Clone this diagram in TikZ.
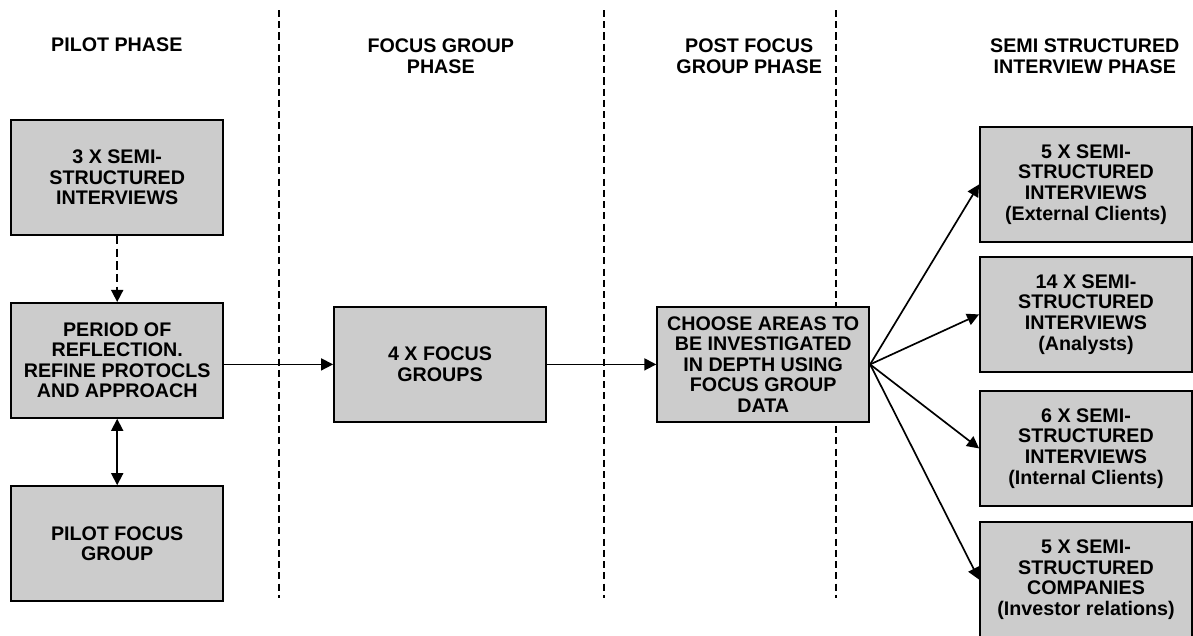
\documentclass[tikz,border=0pt]{standalone}
\usepackage{fontspec}
\setmainfont{Liberation Sans}
\usetikzlibrary{arrows.meta, positioning}

\begin{document}
\begin{tikzpicture}[
    every node/.style={font=\fontsize{14}{14.6}\selectfont\bfseries, align=center},
    phasebox/.style={
        draw=black,
        line width=1.3pt,
        fill=black!20,
        minimum width=5.3cm,
        minimum height=2.875cm,
        inner sep=2pt
    },
    phasetitle/.style={inner sep=0pt},
    divider/.style={dash pattern=on 5pt off 3pt, line width=0.9pt},
    arrow/.style={-{Triangle[length=3mm, width=3mm]}, line width=1.2pt}
]

\useasboundingbox (0,0) rectangle (29.825,-15.875);

% phase titles
\node[phasetitle] (tpilot) at (2.92,-1.11) {PILOT PHASE};
\node[phasetitle] (tfocus) at (11.02,-1.40) {FOCUS GROUP\\PHASE};
\node[phasetitle] (tpost) at (18.73,-1.40) {POST FOCUS\\GROUP PHASE};
\node[phasetitle] (tsemi) at (27.12,-1.40) {SEMI STRUCTURED\\INTERVIEW PHASE};

% dividers
\coordinate (d1top) at (6.975,-0.25);
\coordinate (d1bot) at (6.975,-14.95);
\coordinate (d2top) at (15.1,-0.25);
\coordinate (d2bot) at (15.1,-14.95);
\coordinate (d3top) at (20.9,-0.25);
\coordinate (d3bot) at (20.9,-14.95);
\draw[divider] (d1top) -- (d1bot);
\draw[divider] (d2top) -- (d2bot);
\draw[divider] (d3top) -- (d3bot);

% pilot phase
\node[phasebox] (pilotint) at (2.93,-4.44) {3 X SEMI-\\STRUCTURED\\INTERVIEWS};
\node[phasebox] (reflect) at (2.93,-9.01) {PERIOD OF\\REFLECTION.\\REFINE PROTOCLS\\AND APPROACH};
\node[phasebox] (pilotfg) at (2.93,-13.59) {PILOT FOCUS\\GROUP};

% focus group phase
\node[phasebox] (focus) at (11.0,-9.11) {4 X FOCUS\\GROUPS};

% post focus group phase
\node[phasebox] (choose) at (19.08,-9.11) {CHOOSE AREAS TO\\BE INVESTIGATED\\IN DEPTH USING\\FOCUS GROUP\\DATA};

% semi structured interview phase
\node[phasebox] (extcl) at (27.15,-4.61) {5 X SEMI-\\STRUCTURED\\INTERVIEWS\\(External Clients)};
\node[phasebox] (analyst) at (27.15,-7.86) {14 X SEMI-\\STRUCTURED\\INTERVIEWS\\(Analysts)};
\node[phasebox] (intcl) at (27.15,-11.21) {6 X SEMI-\\STRUCTURED\\INTERVIEWS\\(Internal Clients)};
\node[phasebox] (invrel) at (27.15,-14.49) {5 X SEMI-\\STRUCTURED\\COMPANIES\\(Investor relations)};

% connectors
\draw[arrow, dash pattern=on 6pt off 3pt] (pilotint) -- (reflect);
\draw[arrow, {Triangle[length=3mm, width=3mm]}-{Triangle[length=3mm, width=3mm]}] (reflect) -- (pilotfg);
\draw[arrow] (reflect.east |- focus.west) -- (focus.west);
\draw[arrow] (focus) -- (choose);
\draw[arrow] (choose.east) -- (extcl.west);
\draw[arrow] (choose.east) -- (analyst.west);
\draw[arrow] (choose.east) -- (intcl.west);
\draw[arrow] (choose.east) -- (invrel.west);

\end{tikzpicture}
\end{document}
